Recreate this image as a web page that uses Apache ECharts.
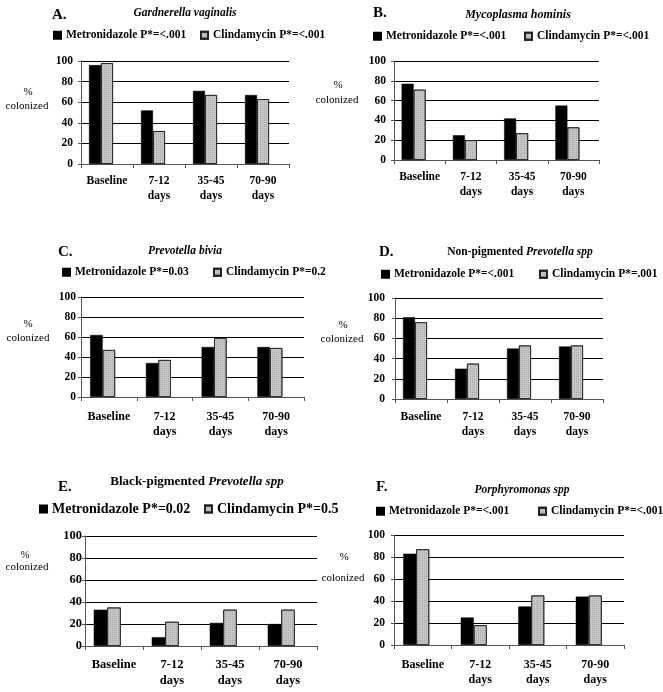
<!DOCTYPE html>
<html><head><meta charset="utf-8">
<script src="https://cdn.jsdelivr.net/npm/echarts@6/dist/echarts.min.js"></script>
<style>html,body{margin:0;padding:0;background:#fff}#c{width:663px;height:692px}</style>
</head><body><div id="c"></div>
<script>
// ---- data ----
const categories = ['Baseline', '7-12\ndays', '35-45\ndays', '70-90\ndays'];
const yTicks = [0, 20, 40, 60, 80, 100];
const panelLetters = ['A.', 'B.', 'C.', 'D.', 'E.', 'F.'];
const organisms = [
  '{i|Gardnerella vaginalis}',
  '{i|Mycoplasma hominis}',
  '{i|Prevotella bivia}',
  'Non-pigmented {i|Prevotella spp}',
  'Black-pigmented {i|Prevotella spp}',
  '{i|Porphyromonas spp}'
];
const metronidazoleP = ['<.001', '<.001', '0.03', '<.001', '0.02', '<.001'];
const clindamycinP = ['<.001', '<.001', '0.2', '.001', '0.5', '<.001'];
const metGardnerella = [96, 52, 71, 67];
const clinGardnerella = [98, 32, 67, 63];
const metMycoplasma = [77, 25, 42, 55];
const clinMycoplasma = [71, 20, 27, 33];
const metBivia = [62, 34, 50, 50];
const clinBivia = [47, 37, 59, 49];
const metNonPig = [81, 30, 50, 52];
const clinNonPig = [76, 35, 53, 53];
const metBlackPig = [33, 8, 21, 20];
const clinBlackPig = [35, 22, 33, 33];
const metPorphyromonas = [83, 25, 35, 44];
const clinPorphyromonas = [87, 18, 45, 45];
const yAxisTitleTop = '%';
const yAxisTitleBottom = 'colonized';

const metValues = [metGardnerella, metMycoplasma, metBivia, metNonPig, metBlackPig, metPorphyromonas];
const clinValues = [clinGardnerella, clinMycoplasma, clinBivia, clinNonPig, clinBlackPig, clinPorphyromonas];

// ---- layout (positions / styles) ----
const FONT = '"Liberation Serif", "Times New Roman", serif';
const layout = [
  { grid: [81, 61, 208, 103], bw: 12, letter: [52, 15], title: [185, 13, 11.5], pct: [28, 92], col: [27, 106],
    leg: [53, 200, 36, 11.5], yMargin: 8, xMargin: 10, lh: 15, fs: 11.5, yfs: 11.5 },
  { grid: [394, 61, 205, 99], bw: 12, letter: [373, 13], title: [518, 15, 12], pct: [338, 85], col: [337, 100],
    leg: [373, 524, 37, 11.5], yMargin: 8, xMargin: 10, lh: 15, fs: 11.5, yfs: 11.5 },
  { grid: [81, 297, 223, 100], bw: 12.5, letter: [58, 252], title: [185, 251, 11.5], pct: [28, 324], col: [28, 338],
    leg: [62, 213, 273, 11.5], yMargin: 5, xMargin: 12, lh: 15, fs: 12, yfs: 11.5 },
  { grid: [395, 298, 208, 101], bw: 12, letter: [379, 252], title: [520, 252, 11.5], pct: [343, 325], col: [342, 339],
    leg: [381, 539, 275, 11.5], yMargin: 10, xMargin: 11, lh: 15, fs: 11.5, yfs: 11.5 },
  { grid: [85, 536, 232, 110], bw: 13.5, letter: [58, 487], title: [197, 482, 13], pct: [25, 555], col: [27, 567],
    leg: [39, 204, 510, 14], yMargin: 3, xMargin: 11, lh: 16, fs: 12.5, yfs: 12.5 },
  { grid: [394, 535, 230, 110], bw: 13, letter: [376, 487], title: [522, 490, 11.5], pct: [344, 557], col: [343, 578],
    leg: [376, 538, 512, 11.5], yMargin: 9, xMargin: 12, lh: 15, fs: 12, yfs: 11.5 }
];

const grids = [], xAxes = [], yAxes = [], series = [], legends = [], graphics = [];

layout.forEach((L, i) => {
  const [gl, gt, gw, gh] = L.grid;
  grids.push({ left: gl, top: gt, width: gw, height: gh, containLabel: false });
  xAxes.push({
    type: 'category', gridIndex: i, data: categories,
    axisLine: { show: true, lineStyle: { color: '#555', width: 1 } },
    axisTick: { show: true, length: 4, interval: 0, lineStyle: { color: '#555' } },
    axisLabel: { interval: 0, margin: L.xMargin, color: '#000', fontFamily: FONT, fontWeight: 'bold',
      fontSize: L.fs, lineHeight: L.lh, verticalAlign: 'top' },
    splitLine: { show: false }
  });
  yAxes.push({
    type: 'value', gridIndex: i, min: yTicks[0], max: yTicks[yTicks.length - 1], interval: yTicks[1] - yTicks[0],
    axisLine: { show: true, lineStyle: { color: '#555', width: 1 } },
    axisTick: { show: true, length: 3, lineStyle: { color: '#555' } },
    axisLabel: { margin: L.yMargin, color: '#000', fontFamily: FONT, fontWeight: 'bold', fontSize: L.yfs },
    splitLine: { show: true, lineStyle: { color: '#000', width: 1 } }
  });
  const metName = 'Metronidazole P*=' + metronidazoleP[i];
  const clinName = 'Clindamycin P*=' + clindamycinP[i];
  series.push({
    type: 'bar', name: metName, xAxisIndex: i, yAxisIndex: i, data: metValues[i],
    barWidth: L.bw, barGap: '0%', silent: true,
    itemStyle: { color: '#000', borderColor: '#000', borderWidth: 0.5 }
  });
  series.push({
    type: 'bar', name: clinName, xAxisIndex: i, yAxisIndex: i, data: clinValues[i],
    barWidth: L.bw, barGap: '0%', silent: true,
    itemStyle: { color: '#c6c6c6', borderColor: '#222', borderWidth: 0.8,
      decal: { symbol: 'rect', symbolSize: 1, dashArrayX: [1, 1], dashArrayY: [1, 1], color: 'rgba(120,120,120,0.35)' } }
  });
  // empty spacer slot so the bar pair sits left of the category centre, as in the original
  series.push({
    type: 'bar', name: 'spacer' + i, xAxisIndex: i, yAxisIndex: i, data: [],
    barWidth: L.bw, barGap: '0%', silent: true, itemStyle: { color: 'transparent' }
  });
  const [mx, cx, ly, lfs] = L.leg;
  const legText = { fontFamily: FONT, fontWeight: 'bold', fontSize: lfs, color: '#000' };
  legends.push({ data: [metName], left: mx, top: ly - lfs / 2 - 1, padding: 0, icon: 'rect',
    itemWidth: 7, itemHeight: 7, selectedMode: false, textStyle: legText });
  legends.push({ data: [clinName], left: cx, top: ly - lfs / 2 - 1, padding: 0, icon: 'rect',
    itemWidth: 7, itemHeight: 7, selectedMode: false, textStyle: legText });

  graphics.push({ type: 'text', x: L.letter[0], y: L.letter[1],
    style: { text: panelLetters[i], fontFamily: FONT, fontWeight: 'bold', fontSize: 15, fill: '#000',
      align: 'left', verticalAlign: 'middle' } });
  graphics.push({ type: 'text', x: L.title[0], y: L.title[1],
    style: { text: organisms[i], fontFamily: FONT, fontWeight: 'bold', fontSize: L.title[2], fill: '#000',
      align: 'center', verticalAlign: 'middle',
      rich: { i: { fontFamily: FONT, fontWeight: 'bold', fontStyle: 'italic', fontSize: L.title[2], fill: '#000' } } } });
  graphics.push({ type: 'text', x: L.pct[0], y: L.pct[1],
    style: { text: yAxisTitleTop, fontFamily: FONT, fontSize: 11, fill: '#000', align: 'center', verticalAlign: 'middle' } });
  graphics.push({ type: 'text', x: L.col[0], y: L.col[1],
    style: { text: yAxisTitleBottom, fontFamily: FONT, fontSize: 11, fill: '#000', align: 'center', verticalAlign: 'middle' } });
});

const chart = echarts.init(document.getElementById('c'), null, { renderer: 'canvas' });
chart.setOption({
  animation: false,
  backgroundColor: '#fff',
  grid: grids, xAxis: xAxes, yAxis: yAxes, series: series, legend: legends, graphic: graphics
});
</script></body></html>
